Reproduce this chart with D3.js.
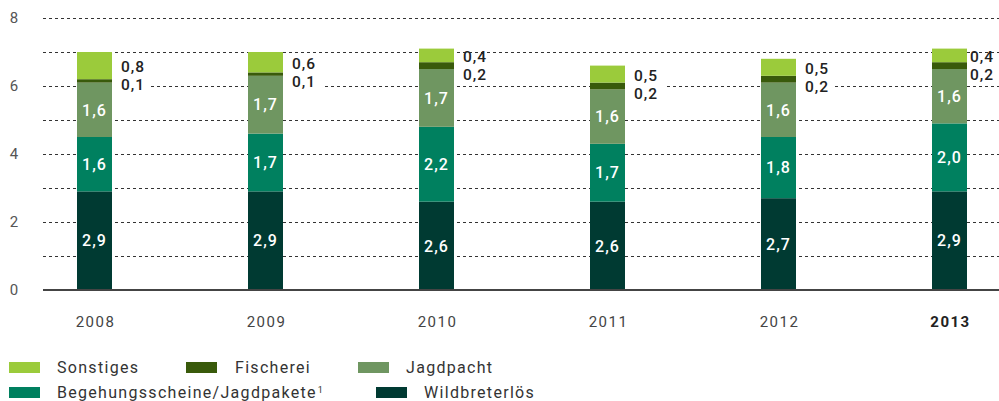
<!DOCTYPE html>
<html>
<head>
<meta charset="utf-8">
<script src="https://cdn.jsdelivr.net/npm/d3@7"></script>
<style>
  body { margin: 0; background: #fff; }
  svg { display: block; font-family: Roboto, "DejaVu Sans", sans-serif; }
</style>
</head>
<body>
<div id="chart"></div>
<script>
// data (Mio. EUR)
const years = ["2008", "2009", "2010", "2011", "2012", "2013"];
const wildbret = [2.9, 2.9, 2.6, 2.6, 2.7, 2.9];
const begehung = [1.6, 1.7, 2.2, 1.7, 1.8, 2.0];
const jagdpacht = [1.6, 1.7, 1.7, 1.6, 1.6, 1.6];
const fischerei = [0.1, 0.1, 0.2, 0.2, 0.2, 0.2];
const sonstiges = [0.8, 0.6, 0.4, 0.5, 0.5, 0.4];
const yTicks = [0, 2, 4, 6, 8];

const seriesNames = ["Wildbreterlös", "Begehungsscheine/Jagdpakete", "Jagdpacht", "Fischerei", "Sonstiges"];
const seriesColors = ["#003a32", "#00805f", "#6f9661", "#395a0b", "#9bcb3b"];

const width = 999, height = 401;
const rows = years.map((y, i) => ({
  year: y,
  "Wildbreterlös": wildbret[i],
  "Begehungsscheine/Jagdpakete": begehung[i],
  "Jagdpacht": jagdpacht[i],
  "Fischerei": fischerei[i],
  "Sonstiges": sonstiges[i]
}));

const fmt = v => d3.format(".1f")(v).replace(".", ",");

const svg = d3.select("#chart").append("svg")
  .attr("width", width)
  .attr("height", height);

const x = d3.scalePoint().domain(years).range([94.5, 949.5]);
const barW = 35;
const y = d3.scaleLinear().domain([0, 8]).range([290, 18]);
const color = d3.scaleOrdinal().domain(seriesNames).range(seriesColors);

// gridlines
svg.append("g")
  .selectAll("line")
  .data(d3.range(1, 9))
  .join("line")
  .attr("x1", 43).attr("x2", width)
  .attr("y1", d => Math.round(y(d)) + 0.5)
  .attr("y2", d => Math.round(y(d)) + 0.5)
  .attr("stroke", "#333")
  .attr("stroke-width", 1)
  .attr("stroke-dasharray", "3,3");

// y labels
svg.append("g")
  .selectAll("text")
  .data(yTicks)
  .join("text")
  .attr("x", 14)
  .attr("y", d => y(d))
  .attr("dy", "0.35em")
  .attr("text-anchor", "middle")
  .style("font-size", "15px")
  .style("fill", "#555")
  .text(d => d);

// stacked bars
const stack = d3.stack().keys(seriesNames);
const stacked = stack(rows);

const layers = svg.append("g")
  .selectAll("g")
  .data(stacked)
  .join("g")
  .attr("fill", d => color(d.key));

layers.selectAll("rect")
  .data(d => d)
  .join("rect")
  .attr("x", d => x(d.data.year) - barW / 2)
  .attr("width", barW)
  .attr("y", d => y(d[1]))
  .attr("height", d => y(d[0]) - y(d[1]));

// labels inside bars (first three series)
stacked.slice(0, 3).forEach(layer => {
  svg.append("g")
    .selectAll("text")
    .data(layer)
    .join("text")
    .attr("x", d => x(d.data.year))
    .attr("y", d => y((d[0] + d[1]) / 2))
    .attr("dy", "0.36em")
    .attr("text-anchor", "middle")
    .style("font-size", "16px")
    .style("font-weight", 500)
    .style("letter-spacing", "1px")
    .style("fill", "#fff")
    .text(d => fmt(d.data[layer.key]));
});

// labels outside for Sonstiges + Fischerei
const sonLayer = stacked[4];
const outer = svg.append("g");
sonLayer.forEach((d, i) => {
  const cy = y((d[0] + d[1]) / 2) + 1;
  const lx = Math.min(x(d.data.year) + barW / 2 + 9, width - 29);
  outer.append("rect")
    .attr("x", x(d.data.year) + barW / 2)
    .attr("y", cy + 3)
    .attr("width", lx - (x(d.data.year) + barW / 2) + 30)
    .attr("height", 25)
    .attr("fill", "#fff");
  outer.append("text")
    .attr("x", lx).attr("y", cy)
    .attr("dy", "0.36em")
    .style("font-size", "15.5px")
    .style("font-weight", 500)
    .style("letter-spacing", "1px")
    .style("fill", "#222")
    .text(fmt(sonstiges[i]));
  outer.append("text")
    .attr("x", lx).attr("y", cy + 18)
    .attr("dy", "0.36em")
    .style("font-size", "15.5px")
    .style("font-weight", 500)
    .style("letter-spacing", "1px")
    .style("fill", "#222")
    .text(fmt(fischerei[i]));
});

// zero line
svg.append("line")
  .attr("x1", 43).attr("x2", width)
  .attr("y1", y(0)).attr("y2", y(0))
  .attr("stroke", "#444")
  .attr("stroke-width", 2);

// x labels
svg.append("g")
  .selectAll("text")
  .data(years)
  .join("text")
  .attr("x", d => x(d) + 1)
  .attr("y", 322)
  .attr("dy", "0.36em")
  .attr("text-anchor", "middle")
  .style("font-size", "15px")
  .style("letter-spacing", "1.5px")
  .style("font-weight", d => d === "2013" ? 700 : 400)
  .style("fill", d => d === "2013" ? "#222" : "#444")
  .text(d => d);

// legend
const legendItems = [
  { name: "Sonstiges", sx: 9, tx: 57, y: 367 },
  { name: "Fischerei", sx: 186, tx: 235, y: 367 },
  { name: "Jagdpacht", sx: 358, tx: 406, y: 367 },
  { name: "Begehungsscheine/Jagdpakete", sx: 9, tx: 57, y: 392, sup: "1" },
  { name: "Wildbreterlös", sx: 376, tx: 424, y: 392 }
];
const legend = svg.append("g");
legendItems.forEach(it => {
  legend.append("rect")
    .attr("x", it.sx).attr("y", it.y - 5)
    .attr("width", 31).attr("height", 11)
    .attr("fill", color(it.name));
  const t = legend.append("text")
    .attr("x", it.tx).attr("y", it.y)
    .attr("dy", "0.36em")
    .style("font-size", "16px")
    .style("letter-spacing", "1.3px")
    .style("fill", "#333")
    .text(it.name);
  if (it.sup) {
    t.append("tspan")
      .attr("dy", "-0.5em")
      .attr("dx", "1")
      .style("font-size", "9px")
      .text(it.sup);
  }
});
</script>
</body>
</html>
